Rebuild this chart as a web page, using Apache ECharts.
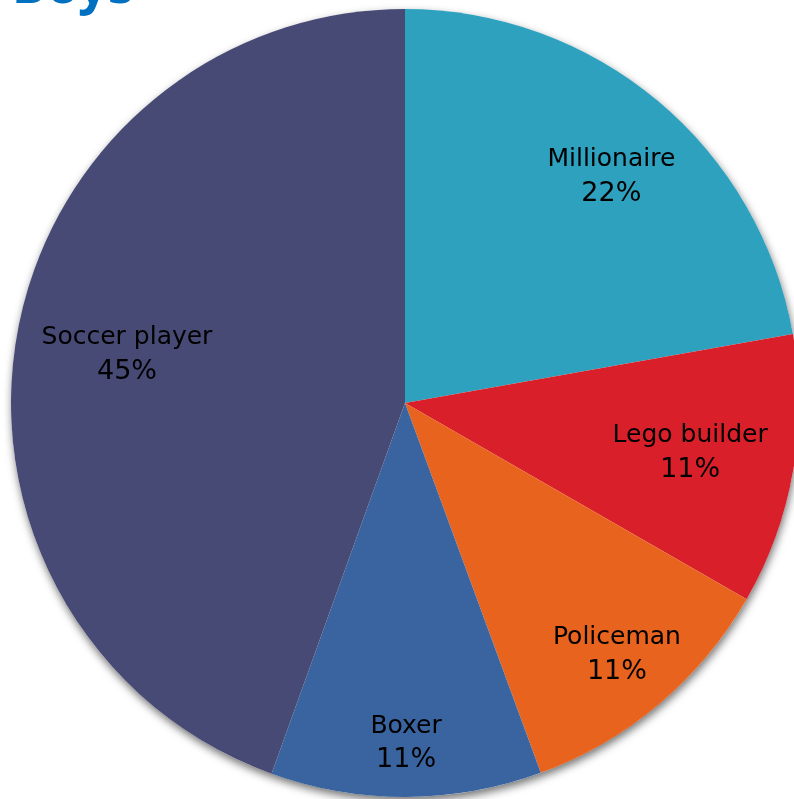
<!DOCTYPE html>
<html>
<head>
<meta charset="utf-8">
<script src="https://cdn.jsdelivr.net/npm/echarts@6/dist/echarts.min.js"></script>
<style>html,body{margin:0;padding:0;background:#fff;}#c{width:794px;height:799px;}</style>
</head>
<body>
<div id="c"></div>
<script>
const categories = ['Millionaire', 'Lego builder', 'Policeman', 'Boxer', 'Soccer player'];
const values = [22.2, 11.1, 11.1, 11.1, 44.5];
const colors = ['#2EA1BF', '#D9202A', '#E8641E', '#3A64A0', '#474A75'];
const titleText = 'Boys';
// style: label distance from centre (fraction of radius) and angular nudge (degrees, clockwise)
const labelRadiusFrac = [0.776, 0.735, 0.836, 0.865, 0.716];
const labelAngleNudge = [2.4, 0, 0, 0, 0];

const CX = 405, CY = 403, R = 394;
const chart = echarts.init(document.getElementById('c'), null, {renderer: 'canvas'});
const option = {
  animation: false,
  graphic: [{
    type: 'text', left: 12, top: -38,
    style: {text: titleText, font: 'bold 52px "Noto Sans"', fill: '#0070C0'}
  }],
  series: [
    {
      type: 'pie', silent: true, center: [CX, CY], radius: R,
      label: {show: false}, labelLine: {show: false},
      itemStyle: {color: '#ffffff', shadowBlur: 8, shadowColor: 'rgba(0,0,0,0.55)', shadowOffsetY: 4, shadowOffsetX: 1},
      data: [{value: 1, name: ''}]
    },
    {
      type: 'pie', center: [CX, CY], radius: R, startAngle: 90, clockwise: true,
      data: categories.map((c, i) => ({name: c, value: values[i], itemStyle: {color: colors[i]}})),
      label: {
        show: true, position: 'inside', color: '#000', align: 'center',
        formatter: p => '{n|' + p.name + '}\n{p|' + Math.round(p.percent) + '%}',
        rich: {
          n: {fontFamily: '"DejaVu Sans"', fontSize: 25, lineHeight: 34, color: '#000', align: 'center'},
          p: {fontFamily: '"DejaVu Sans"', fontSize: 27, lineHeight: 34, color: '#000', align: 'center'}
        }
      },
      labelLine: {show: false},
      labelLayout: function (params) {
        const rect = params.labelRect;
        const lx = rect.x + rect.width / 2, ly = rect.y + rect.height / 2;
        const vx = lx - CX, vy = ly - CY;
        const len = Math.sqrt(vx * vx + vy * vy) || 1;
        const k = labelRadiusFrac[params.dataIndex] * R / len;
        const t = labelAngleNudge[params.dataIndex] * Math.PI / 180;
        const tx = (vx * Math.cos(t) - vy * Math.sin(t)) * k;
        const ty = (vx * Math.sin(t) + vy * Math.cos(t)) * k;
        return {dx: tx - vx, dy: ty - vy};
      }
    }
  ]
};
chart.setOption(option);
</script>
</body>
</html>
